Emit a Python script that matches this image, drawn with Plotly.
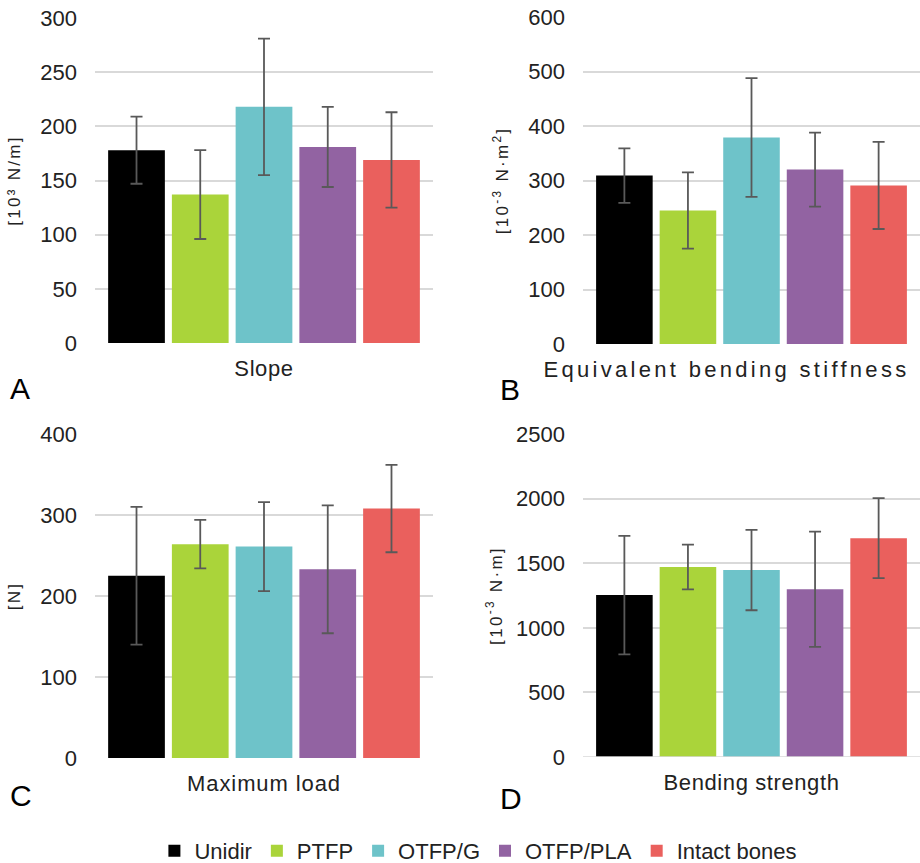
import plotly.graph_objects as go
from plotly.subplots import make_subplots

# Test groups and their colours
groups = ["Unidir", "PTFP", "OTFP/G", "OTFP/PLA", "Intact bones"]
colors = ["#000000", "#aad43a", "#6ec3c9", "#9263a2", "#ea605d"]

# Mean values and standard deviations per measured quantity
slope = [178, 137, 218, 181, 169]
slope_sd = [31, 41, 63, 37, 44]

stiffness = [309, 245, 379, 320, 291]
stiffness_sd = [50, 70, 109, 68, 80]

max_load = [225, 264, 261, 233, 308]
max_load_sd = [85, 30, 55, 79, 54]

strength = [1253, 1470, 1447, 1299, 1694]
strength_sd = [458, 173, 311, 446, 310]

panels = [
    ("Slope", slope, slope_sd, "[10³ N/m]", [0, 300], 50, "A"),
    ("Equivalent bending stiffness", stiffness, stiffness_sd,
     "[10<sup>-3</sup> N·m<sup>2</sup>]", [0, 600], 100, "B"),
    ("Maximum load", max_load, max_load_sd, "[N]", [0, 400], 100, "C"),
    ("Bending strength", strength, strength_sd,
     "[10<sup>-3</sup> N·m]", [0, 2500], 500, "D"),
]

W, H = 920, 863
FONT = "Arial"
TXT = "#222222"
GRID = "#d9d9d9"


def spaced(text, px):
    return f'<span style="letter-spacing:{px}px">{text}</span>'


fig = make_subplots(rows=2, cols=2)

# pixel boxes of the four plotting areas: (left, right, top, bottom)
boxes = [(95, 433, 18, 343), (583, 920, 17, 344),
         (95, 433, 434, 758), (583, 920, 434, 757)]
title_standoff = [15, 15, 15, 9]
cat_spacing = [0.6, 3.3, 0.9, 0.6]
cat_shift = [0, -25, 0, 0]
letter_pos = [(8, 388), (498, 389), (8, 795), (498, 798)]

for i, (cat, vals, sds, ytitle, yrange, dtick, letter) in enumerate(panels):
    row, col = i // 2 + 1, i % 2 + 1
    for g, c, v, s in zip(groups, colors, vals, sds):
        fig.add_trace(
            go.Bar(
                x=[cat], y=[v], name=g, marker=dict(color=c, line=dict(width=0)),
                error_y=dict(type="data", array=[s], color="#595959",
                             thickness=1.8, width=6),
                legendgroup=g, showlegend=(i == 0),
            ),
            row=row, col=col,
        )
    l, r, t, b = boxes[i]
    ax = "" if i == 0 else str(i + 1)
    fig.layout["xaxis" + ax].update(
        domain=[l / W, r / W], showgrid=False, zeroline=False, showline=False,
        ticks="", ticklabelstandoff=10, ticklabelshift=cat_shift[i],
        automargin=False,
        tickvals=[cat], ticktext=[spaced(cat, cat_spacing[i])],
        tickfont=dict(family=FONT, size=22, color=TXT),
    )
    fig.layout["yaxis" + ax].update(
        domain=[1 - b / H, 1 - t / H], range=yrange, dtick=dtick, tick0=0,
        showgrid=True, gridcolor=GRID, gridwidth=1.5, zeroline=False,
        showline=False, ticks="", ticklabelstandoff=17, automargin=False,
        tickfont=dict(family=FONT, size=22, color=TXT),
        title=dict(text=spaced(ytitle, 2.3), standoff=title_standoff[i],
                   font=dict(family=FONT, size=17, color=TXT)),
    )
    lx, ly = letter_pos[i]
    fig.add_annotation(
        text=letter, xref="paper", yref="paper", x=lx / W, y=1 - ly / H,
        xanchor="left", yanchor="middle", showarrow=False,
        font=dict(family=FONT, size=30, color="#000000"),
    )

# baseline of the bending-strength panel sits on top of the bars
fig.add_shape(type="line", xref="x4 domain", yref="y4", x0=0, x1=1, y0=0, y1=0,
              line=dict(color=GRID, width=1.5), layer="above")

fig.update_layout(
    width=W, height=H, margin=dict(l=0, r=0, t=0, b=0, autoexpand=False),
    paper_bgcolor="white", plot_bgcolor="white",
    barmode="group", bargap=0.057, bargroupgap=0.11,
    font=dict(family=FONT, color=TXT),
    legend=dict(orientation="h", x=0.52, xanchor="center", y=1 - 851 / H,
                yanchor="middle", font=dict(family=FONT, size=22, color=TXT),
                bgcolor="rgba(0,0,0,0)", itemclick=False, itemwidth=30),
    showlegend=True,
)

fig.write_html("out.html")
